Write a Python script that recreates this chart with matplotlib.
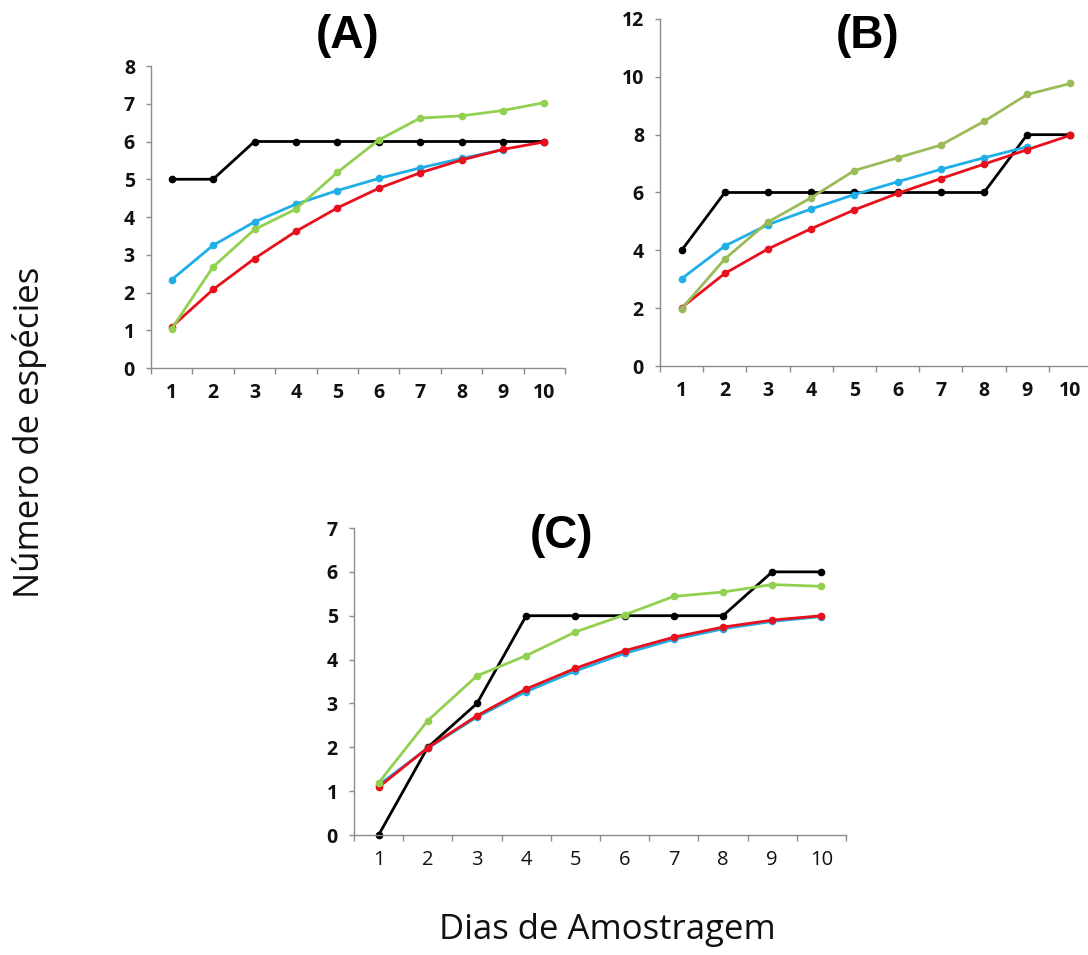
import matplotlib
matplotlib.use("Agg")
import matplotlib.pyplot as plt
import numpy as np

days = [1, 2, 3, 4, 5, 6, 7, 8, 9, 10]

# Panel A
a_black = [5, 5, 6, 6, 6, 6, 6, 6, 6, 6]
a_blue = [2.34, 3.25, 3.87, 4.34, 4.70, 5.02, 5.30, 5.55, 5.78]
a_red = [1.09, 2.08, 2.90, 3.62, 4.24, 4.76, 5.17, 5.51, 5.79, 5.99]
a_green = [1.04, 2.68, 3.67, 4.21, 5.18, 6.04, 6.62, 6.68, 6.82, 7.03]

# Panel B
b_black = [4, 6, 6, 6, 6, 6, 6, 6, 8, 8]
b_blue = [3.02, 4.15, 4.89, 5.43, 5.93, 6.37, 6.80, 7.20, 7.58]
b_red = [2.02, 3.20, 4.05, 4.75, 5.40, 5.97, 6.48, 6.98, 7.48, 7.98]
b_green = [1.98, 3.70, 4.98, 5.82, 6.76, 7.20, 7.64, 8.46, 9.39, 9.77]

# Panel C
c_black = [0, 2, 3, 5, 5, 5, 5, 5, 6, 6]
c_blue = [1.14, 1.98, 2.69, 3.27, 3.74, 4.14, 4.46, 4.70, 4.87, 4.98]
c_red = [1.09, 1.99, 2.72, 3.33, 3.80, 4.20, 4.51, 4.74, 4.90, 5.00]
c_green = [1.19, 2.61, 3.63, 4.09, 4.63, 5.02, 5.44, 5.54, 5.71, 5.67]

BLACK = "#000000"
BLUE = "#1FAEE6"
RED = "#E8101C"
GREEN_LIGHT = "#92D050"
GREEN_OLIVE = "#9BBB59"
AXIS = "#8C8C8C"

FONT = "Open Sans"

fig = plt.figure(figsize=(10.88, 9.55), dpi=100)
W, H = 1088, 955


def make_ax(left, right, bottom, top):
    return fig.add_axes([left / W, (H - bottom) / H, (right - left) / W, (bottom - top) / H])


def style(ax, ymax, ystep, xbold=True):
    ax.set_xlim(0.5, 10.5)
    ax.set_ylim(0, ymax)
    for s in ["top", "right"]:
        ax.spines[s].set_visible(False)
    for s in ["left", "bottom"]:
        ax.spines[s].set_color(AXIS)
        ax.spines[s].set_linewidth(1.0)
    ax.set_xticks(days)
    ax.set_xticks(np.arange(0.5, 11, 1.0), minor=True)
    ax.tick_params(axis="x", which="major", length=0, pad=11)
    ax.tick_params(axis="x", which="minor", length=4.5, color=AXIS, width=1.0)
    yt = np.arange(0, ymax + 0.01, ystep)
    ax.set_yticks(yt)
    ax.tick_params(axis="y", which="major", length=3.6, color=AXIS, width=1.0, pad=8)
    ax.set_xticklabels([str(d) for d in days], fontsize=14,
                       fontweight="bold" if xbold else "normal", family=FONT)
    ax.set_yticklabels([str(int(v)) for v in yt],
                       fontsize=14, fontweight="bold", family=FONT)
    ax.patch.set_alpha(0)
    for lab in ax.get_xticklabels() + ax.get_yticklabels():
        lab.set_color("#111111")


def plot_panel(ax, black, blue, red, green, gcol):
    kw = dict(linewidth=2.0, marker="o", markersize=4.5, clip_on=False)
    ax.plot(days[:len(black)], black, color=BLACK, **kw)
    ax.plot(days[:len(blue)], blue, color=BLUE, **kw)
    ax.plot(days[:len(red)], red, color=RED, **kw)
    ax.plot(days[:len(green)], green, color=gcol, **kw)


axA = make_ax(151, 565, 368, 66)
plot_panel(axA, a_black, a_blue, a_red, a_green, GREEN_LIGHT)
style(axA, 8, 1)

axB = make_ax(660, 1092, 366, 19)
plot_panel(axB, b_black, b_blue, b_red, b_green, GREEN_OLIVE)
style(axB, 12, 2)

axC = make_ax(354, 846, 835, 528)
plot_panel(axC, c_black, c_blue, c_red, c_green, GREEN_LIGHT)
style(axC, 7, 1, xbold=False)
for lab in axC.get_xticklabels():
    lab.set_fontsize(14.5)

tkw = dict(fontsize=33, fontweight="bold", family="Liberation Sans",
           ha="center", va="center")
fig.text(348 / W, 1 - 36 / H, "(A)", **tkw)
fig.text(868 / W, 1 - 36 / H, "(B)", **tkw)
fig.text(562 / W, 1 - 536 / H, "(C)", **tkw)

fig.text(30 / W, 1 - 432 / H, "Número de espécies", rotation=90, fontsize=25,
         family=FONT, ha="center", va="center", color="#111111")
fig.text(607 / W, 1 - 930 / H, "Dias de Amostragem", fontsize=25,
         family=FONT, ha="center", va="center", color="#111111")

fig.savefig("out.png", dpi=100, facecolor="white")
